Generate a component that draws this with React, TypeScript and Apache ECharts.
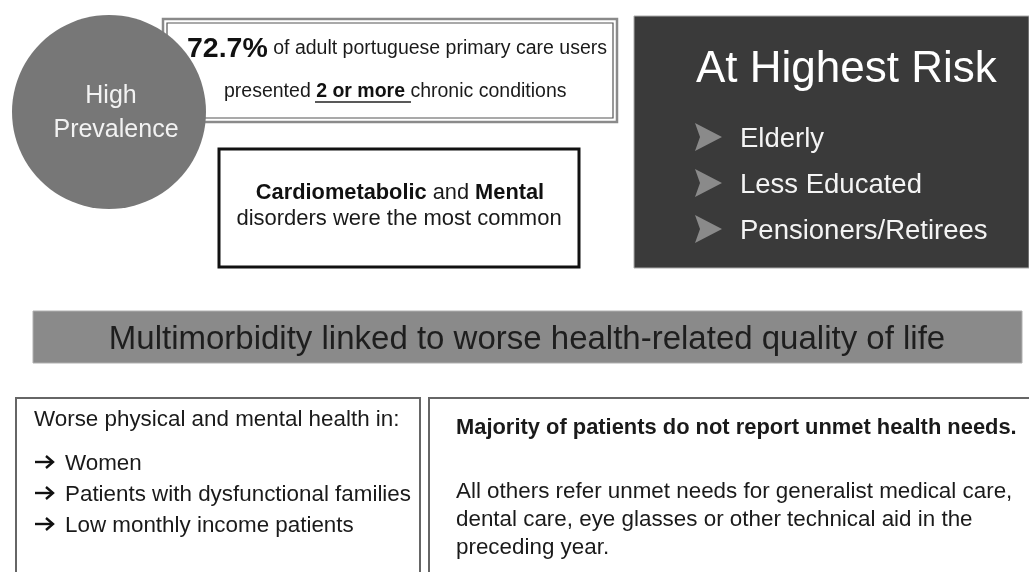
import React, { useEffect, useRef } from "react";
import * as echarts from "echarts";

const circleLines = ["High", "Prevalence"];
const prevalenceValue = "72.7%";
const prevalenceRest = " of adult portuguese primary care users";
const prevalenceLine2 = ["presented ", "2 or more", " chronic conditions"];
const commonBold = ["Cardiometabolic", "Mental"];
const commonLine2 = "disorders were the most common";
const riskTitle = "At Highest Risk";
const riskGroups = ["Elderly", "Less Educated", "Pensioners/Retirees"];
const bannerText = "Multimorbidity linked to worse health-related quality of life";
const leftTitle = "Worse physical and mental health in:";
const leftItems = ["Women", "Patients with dysfunctional families", "Low monthly income patients"];
const rightTitle = "Majority of patients do not report unmet health needs.";
const rightLines = [
  "All others refer unmet needs for generalist medical care,",
  "dental care, eye glasses or other technical aid in the",
  "preceding year.",
];

const FF = "'Liberation Sans', Arial, sans-serif";

function txt(x: number, y: number, text: string, size: number, opts: any = {}) {
  return {
    type: "text",
    x,
    y,
    style: {
      text,
      fill: opts.fill || "#1a1a1a",
      font: `${opts.weight || "normal"} ${size}px ${FF}`,
      textAlign: opts.align || "left",
      align: opts.align || "left",
      textVerticalAlign: "middle",
      verticalAlign: "middle",
    },
  };
}

export default function App() {
  const ref = useRef<HTMLDivElement>(null);
  useEffect(() => {
    if (!ref.current) return;
    const chart = echarts.init(ref.current, null, { renderer: "svg" });
    const els: any[] = [];
    els.push({ type: "rect", shape: { x: 0, y: 0, width: 1029, height: 572 }, style: { fill: "#ffffff" } });

    // prevalence box (double border)
    els.push({ type: "rect", shape: { x: 163, y: 19, width: 454, height: 103 }, style: { fill: "#fff", stroke: "#8a8a8a", lineWidth: 2.5 } });
    els.push({ type: "rect", shape: { x: 167, y: 23, width: 446, height: 95 }, style: { fill: "#fff", stroke: "#555", lineWidth: 1.2 } });
    els.push({
      type: "text",
      x: 187,
      y: 47,
      style: {
        text: `{b|${prevalenceValue}}{n|${prevalenceRest}}`,
        textVerticalAlign: "middle",
        verticalAlign: "middle",
        rich: {
          b: { font: `bold 28.5px ${FF}`, fill: "#111" },
          n: { font: `normal 19.5px ${FF}`, fill: "#1a1a1a" },
        },
      },
    });
    els.push({
      type: "text",
      x: 224,
      y: 90,
      style: {
        text: `{n|${prevalenceLine2[0]}}{b|${prevalenceLine2[1]}}{n|${prevalenceLine2[2]}}`,
        textVerticalAlign: "middle",
        verticalAlign: "middle",
        rich: {
          b: { font: `bold 19.5px ${FF}`, fill: "#111" },
          n: { font: `normal 19.5px ${FF}`, fill: "#1a1a1a" },
        },
      },
    });
    els.push({ type: "line", shape: { x1: 315, y1: 102, x2: 411, y2: 102 }, style: { stroke: "#222", lineWidth: 1.6 } });

    // circle
    els.push({ type: "circle", shape: { cx: 109, cy: 112, r: 97 }, style: { fill: "#777777" } });
    els.push(txt(111, 94, circleLines[0], 25, { fill: "#f2f2f2", align: "center" }));
    els.push(txt(116, 128, circleLines[1], 25, { fill: "#f2f2f2", align: "center" }));

    // common disorders box
    els.push({ type: "rect", shape: { x: 219, y: 149, width: 360, height: 118 }, style: { fill: "#fff", stroke: "#111", lineWidth: 3 } });
    els.push({
      type: "text",
      x: 400,
      y: 191,
      style: {
        text: `{b|${commonBold[0]}}{n| and }{b|${commonBold[1]}}`,
        textAlign: "center",
        align: "center",
        textVerticalAlign: "middle",
        verticalAlign: "middle",
        rich: {
          b: { font: `bold 21.8px ${FF}`, fill: "#111" },
          n: { font: `normal 21.8px ${FF}`, fill: "#1a1a1a" },
        },
      },
    });
    els.push(txt(399, 217, commonLine2, 22, { align: "center" }));

    // at highest risk box
    els.push({ type: "rect", shape: { x: 634, y: 16, width: 395, height: 252 }, style: { fill: "#3a3a3a", stroke: "#aaa", lineWidth: 1 } });
    els.push(txt(696, 66, riskTitle, 44, { fill: "#ffffff" }));
    riskGroups.forEach((g, i) => {
      const cy = 137 + i * 46;
      els.push({ type: "polygon", shape: { points: [[695, cy - 14], [722, cy], [695, cy + 14], [700, cy]] }, style: { fill: "#8a8a8a" } });
      els.push(txt(740, cy, g, 27.5, { fill: "#f4f4f4" }));
    });

    // banner
    els.push({ type: "rect", shape: { x: 33, y: 311, width: 989, height: 52 }, style: { fill: "#8a8a8a", stroke: "#b0b0b0", lineWidth: 1 } });
    els.push(txt(527, 337, bannerText, 33, { fill: "#1e1e1e", align: "center" }));

    // bottom left box
    els.push({ type: "rect", shape: { x: 16, y: 398, width: 404, height: 190 }, style: { fill: "#fff", stroke: "#666", lineWidth: 2 } });
    els.push(txt(34, 418, leftTitle, 22.4));
    leftItems.forEach((it, i) => {
      const cy = 462 + i * 31;
      els.push({ type: "line", shape: { x1: 35, y1: cy, x2: 52, y2: cy }, style: { stroke: "#111", lineWidth: 2.4 } });
      els.push({ type: "polyline", shape: { points: [[46, cy - 6], [53, cy], [46, cy + 6]] }, style: { stroke: "#111", lineWidth: 2.4, fill: null } });
      els.push(txt(65, cy, it, 22.4));
    });

    // bottom right box
    els.push({ type: "rect", shape: { x: 429, y: 398, width: 610, height: 190 }, style: { fill: "#fff", stroke: "#666", lineWidth: 2 } });
    els.push(txt(456, 426, rightTitle, 21.9, { weight: "bold" }));
    rightLines.forEach((l, i) => {
      els.push(txt(456, 490 + i * 28, l, 22.4));
    });

    chart.setOption({ animation: false, graphic: { elements: els } });
    return () => chart.dispose();
  }, []);
  return <div ref={ref} style={{ position: "fixed", left: 0, top: 0, width: 1029, height: 572 }} />;
}
